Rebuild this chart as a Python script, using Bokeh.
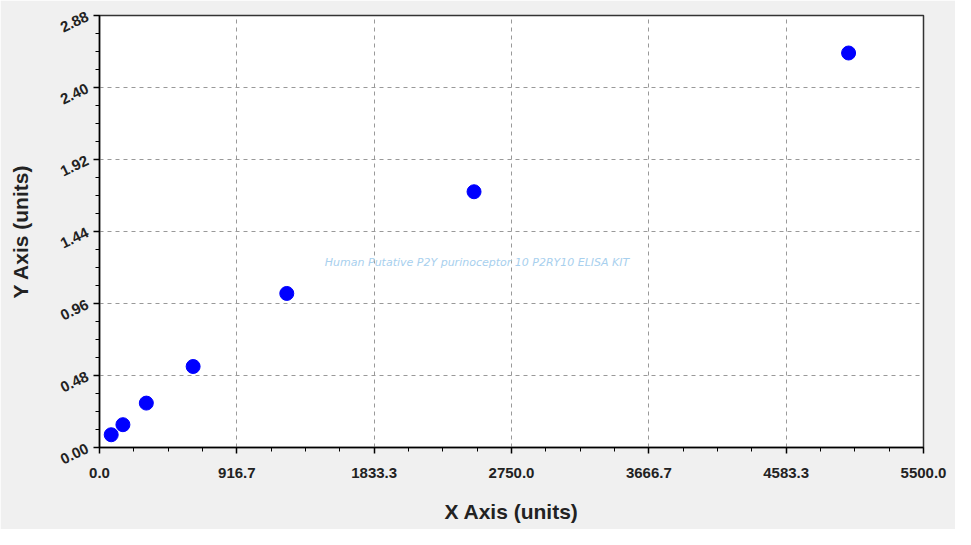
from bokeh.plotting import figure
from bokeh.models import FixedTicker, Range1d, Label
from bokeh.embed import file_html
from bokeh.resources import INLINE

# data
concentration = [78.125, 156.25, 312.5, 625, 1250, 2500, 5000]
od_values = [0.085, 0.152, 0.296, 0.540, 1.027, 1.705, 2.630]

x_ticks = [0, 916.6667, 1833.3333, 2750, 3666.6667, 4583.3333, 5500]
x_tick_labels = ["0.0", "916.7", "1833.3", "2750.0", "3666.7", "4583.3", "5500.0"]
x_minor = [i * 229.1667 for i in range(25)]
y_ticks = [0, 0.48, 0.96, 1.44, 1.92, 2.40, 2.88]
y_tick_labels = ["0.00", "0.48", "0.96", "1.44", "1.92", "2.40", "2.88"]
y_minor = [i * 0.12 for i in range(25)]

title_text = "Human Putative P2Y purinoceptor 10 P2RY10 ELISA KIT"

p = figure(width=955, height=529, output_backend="svg", toolbar_location=None,
           x_range=Range1d(0, 5500), y_range=Range1d(0, 2.88),
           min_border_left=99, min_border_right=32, min_border_top=15, min_border_bottom=82,
           background_fill_color="white", border_fill_color="#f0f0f0")

p.outline_line_color = "#333333"
p.outline_line_width = 1.5

p.xaxis.ticker = FixedTicker(ticks=x_ticks, minor_ticks=x_minor)
p.yaxis.ticker = FixedTicker(ticks=y_ticks, minor_ticks=y_minor)
p.xaxis.major_label_overrides = {t: l for t, l in zip(x_ticks, x_tick_labels)}
p.yaxis.major_label_overrides = {t: l for t, l in zip(y_ticks, y_tick_labels)}

for ax in (p.xaxis, p.yaxis):
    ax.axis_line_color = "black"
    ax.axis_line_width = 1.5
    ax.major_tick_in = 0
    ax.major_tick_out = 6
    ax.minor_tick_in = 0
    ax.minor_tick_out = 4
    ax.major_tick_line_color = "black"
    ax.minor_tick_line_color = "black"
    ax.major_tick_line_width = 1.5
    ax.major_label_text_font = "Liberation Sans"
    ax.major_label_text_font_style = "bold"
    ax.major_label_text_font_size = "15px"
    ax.major_label_text_color = "#222222"
    ax.axis_label_text_font = "Liberation Sans"
    ax.axis_label_text_font_style = "bold"
    ax.axis_label_text_font_size = "21px"
    ax.axis_label_text_color = "#222222"

p.xaxis.axis_label = "X Axis (units)"
p.yaxis.axis_label = "Y Axis (units)"
p.xaxis.major_label_standoff = 14
p.xaxis.axis_label_standoff = 19
p.yaxis.major_label_standoff = 6
p.yaxis.axis_label_standoff = 22
p.yaxis.major_label_orientation = 0.45

for g in (p.xgrid, p.ygrid):
    g.grid_line_color = "#999999"
    g.grid_line_dash = "4 4"
    g.grid_line_width = 1

p.scatter(concentration, od_values, size=14, color="#0000ff", line_color="#0000ff")

p.add_layout(Label(x=2520, y=1.236, text=title_text, text_align="center",
                   text_baseline="middle", text_font="DejaVu Sans", text_font_style="italic",
                   text_font_size="11px", text_color="#a8d0ee"))

open("out.html", "w").write(file_html(p, INLINE))
